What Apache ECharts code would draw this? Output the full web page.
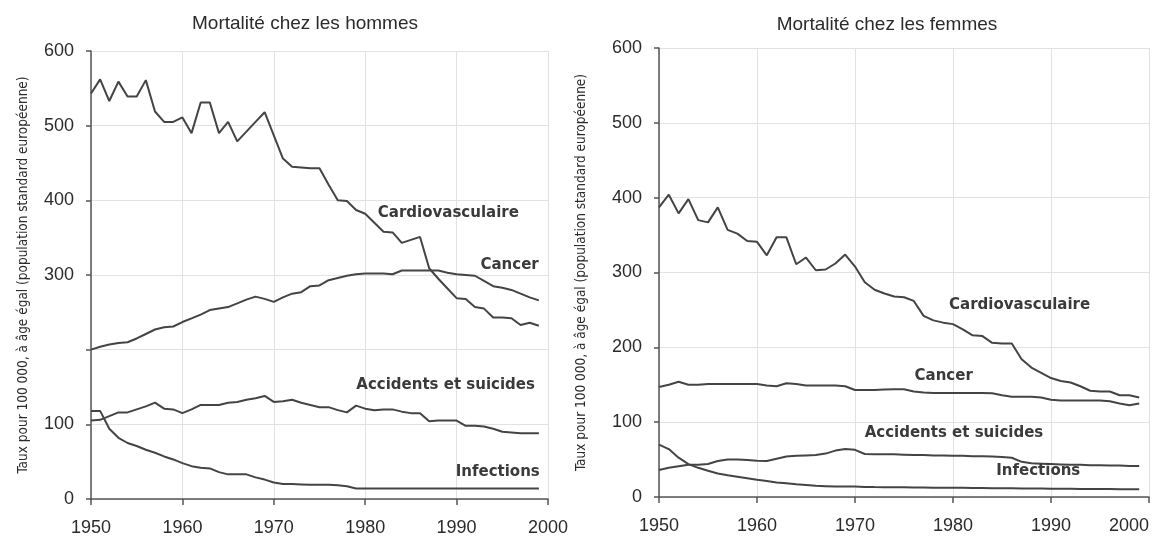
<!DOCTYPE html>
<html>
<head>
<meta charset="utf-8">
<title>Mortalité</title>
<script src="https://cdn.jsdelivr.net/npm/echarts@6/dist/echarts.min.js"></script>
<style>
  html, body { margin: 0; padding: 0; background: #fff; }
  #chart { width: 1160px; height: 537px; }
</style>
</head>
<body>
<div id="chart"></div>
<script>
// années 1950 -> 1999
const years = [
  1950, 1951, 1952, 1953, 1954, 1955, 1956, 1957, 1958, 1959,
  1960, 1961, 1962, 1963, 1964, 1965, 1966, 1967, 1968, 1969,
  1970, 1971, 1972, 1973, 1974, 1975, 1976, 1977, 1978, 1979,
  1980, 1981, 1982, 1983, 1984, 1985, 1986, 1987, 1988, 1989,
  1990, 1991, 1992, 1993, 1994, 1995, 1996, 1997, 1998, 1999
];
const yTicks = [0, 100, 200, 300, 400, 500, 600];
const xTicks = [1950, 1960, 1970, 1980, 1990, 2000];

// hommes
const hommesCardio = [
  543, 562, 533, 559, 539, 539, 561, 519, 505, 505,
  511, 490, 531, 531, 490, 505, 479, 492, 505, 518,
  487, 456, 445, 444, 443, 443, 421, 400, 399, 387,
  382, 370, 358, 357, 343, 347, 351, 309, 295, 282,
  269, 268, 257, 255, 243, 243, 242, 233, 236, 232
];
const hommesCancer = [
  200, 204, 207, 209, 210, 215, 221, 227, 230, 231,
  237, 242, 247, 253, 255, 257, 262, 267, 271, 268,
  264, 270, 275, 277, 285, 286, 293, 296, 299, 301,
  302, 302, 302, 301, 306, 306, 306, 306, 306, 303,
  301, 300, 299, 292, 285, 283, 280, 275, 270, 266
];
const hommesAccidents = [
  105, 106, 111, 116, 116, 120, 124, 129, 121, 120,
  115, 120, 126, 126, 126, 129, 130, 133, 135, 138,
  130, 131, 133, 129, 126, 123, 123, 119, 116, 125,
  121, 119, 120, 120, 117, 115, 115, 104, 105, 105,
  105, 98, 98, 97, 94, 90, 89, 88, 88, 88
];
const hommesInfections = [
  118, 118, 94, 82, 75, 71, 66, 62, 57, 53,
  48, 44, 42, 41, 36, 33, 33, 33, 29, 26,
  22, 20, 20, 19.5, 19, 19, 19, 18.5, 17, 14,
  14, 14, 14, 14, 14, 14, 14, 14, 14, 14,
  14, 14, 14, 14, 14, 14, 14, 14, 14, 14
];

// femmes
const femmesCardio = [
  387, 404, 379, 398, 370, 367, 387, 357, 352, 342,
  341, 323, 347, 347, 311, 320, 303, 304, 312, 324,
  308, 287, 277, 272, 268, 267, 262, 242, 236, 233,
  231, 224, 216, 215, 206, 205, 205, 184, 173, 166,
  159, 155, 153, 148, 142, 141, 141, 136, 136, 133
];
const femmesCancer = [
  147, 150, 154, 150, 150, 151, 151, 151, 151, 151,
  151, 149, 148, 152, 151, 149, 149, 149, 149, 148,
  143, 143, 143, 143.5, 144, 144, 141, 139.5, 139, 139,
  139, 139, 139, 139, 138.5, 136, 134, 134, 134, 133,
  130, 129, 129, 129, 129, 129, 128, 125, 122.5, 125
];
const femmesAccidents = [
  36, 39, 41, 43, 43, 44, 48, 50, 50, 49.5,
  48.5, 48, 51, 54, 55, 55.5, 56, 58, 62, 64,
  63, 57.5, 57, 57, 57, 56.5, 56, 56, 55.5, 55.5,
  55, 55, 54.5, 54.5, 54, 53.5, 52.5, 47, 45, 44.5,
  44, 43.5, 43, 43, 42.5, 42.5, 42, 42, 41.5, 41.5
];
const femmesInfections = [
  70, 64, 52.5, 44, 39, 35, 31.5, 29, 27, 25,
  23, 21.5, 19.5, 18.5, 17, 16, 15, 14.5, 14, 14,
  14, 13.5, 13.2, 13, 13, 13, 12.8, 12.7, 12.5, 12.4,
  12.3, 12.2, 12, 11.9, 11.8, 11.7, 11.6, 11.4, 11.3, 11.2,
  11.1, 11, 10.9, 10.8, 10.7, 10.6, 10.6, 10.5, 10.5, 10.4
];

const titles = ['Mortalité chez les hommes', 'Mortalité chez les femmes'];
const yName = 'Taux pour 100 000, à âge égal (population standard européenne)';
const seriesNames = ['Cardiovasculaire', 'Cancer', 'Accidents et suicides', 'Infections'];
// où poser le nom de chaque courbe (année, taux)
const labelPosHommes = [[1989.1, 383], [1995.8, 313], [1988.8, 152.6], [1994.5, 36.5]];
const labelPosFemmes = [[1986.8, 257], [1979.05, 161], [1980.1, 85.5], [1988.7, 34]];

const lineColor = '#444';
const textColor = '#2b2b2b';
const gridColor = '#e2e2e2';
const numFont = 'Liberation Sans, Arial, sans-serif';

function pairs(values) {
  return years.map(function (y, i) { return [y, values[i]]; });
}

function makeXAxis(idx) {
  return {
    gridIndex: idx,
    type: 'value',
    min: xTicks[0],
    max: xTicks[xTicks.length - 1],
    interval: 10,
    axisLine: { show: true, onZero: false, lineStyle: { color: '#555', width: 1.5 } },
    axisTick: { show: true, length: 6, lineStyle: { color: '#555', width: 1.5 } },
    splitLine: { show: true, lineStyle: { color: gridColor, width: 1 } },
    axisLabel: {
      fontSize: 18,
      color: textColor,
      fontFamily: numFont,
      margin: 20,
      alignMaxLabel: idx === 1 ? 'right' : 'center',
      formatter: function (v) { return String(v); }
    }
  };
}

function makeYAxis(idx, hide200, gap) {
  return {
    gridIndex: idx,
    type: 'value',
    min: yTicks[0],
    max: yTicks[yTicks.length - 1],
    interval: 100,
    name: yName,
    nameLocation: 'middle',
    nameGap: gap,
    nameTextStyle: {
      fontSize: 13.5,
      color: textColor,
      fontFamily: "'Liberation Sans Narrow', 'DejaVu Sans Condensed', sans-serif"
    },
    axisLine: { show: true, lineStyle: { color: '#555', width: 1.5 } },
    axisTick: { show: true, length: 5, lineStyle: { color: '#555', width: 1.5 } },
    splitLine: { show: true, lineStyle: { color: gridColor, width: 1 } },
    axisLabel: {
      fontSize: 18,
      color: textColor,
      fontFamily: numFont,
      margin: 17,
      formatter: function (v) {
        if (hide200 && v === 200) return '';
        return String(v);
      }
    }
  };
}

function makeSeries(idx, name, values, pos) {
  return {
    name: name,
    type: 'line',
    xAxisIndex: idx,
    yAxisIndex: idx,
    data: pairs(values),
    showSymbol: false,
    symbol: 'none',
    lineStyle: { color: lineColor, width: 2 },
    animation: false,
    silent: true,
    markPoint: {
      symbol: 'circle',
      symbolSize: 0,
      silent: true,
      label: {
        show: true,
        position: 'inside',
        formatter: name,
        fontFamily: 'DejaVu Sans, sans-serif',
        fontWeight: 'bold',
        fontSize: 15,
        color: '#3a3a3a'
      },
      data: [{ coord: pos }]
    }
  };
}

const chart = echarts.init(document.getElementById('chart'), null, { renderer: 'canvas' });

const hommes = [hommesCardio, hommesCancer, hommesAccidents, hommesInfections];
const femmes = [femmesCardio, femmesCancer, femmesAccidents, femmesInfections];
const series = [];
for (let i = 0; i < seriesNames.length; i++) {
  series.push(makeSeries(0, seriesNames[i], hommes[i], labelPosHommes[i]));
  series.push(makeSeries(1, seriesNames[i], femmes[i], labelPosFemmes[i]));
}

const option = {
  backgroundColor: '#fff',
  animation: false,
  title: [
    {
      text: titles[0],
      left: 300, top: 9, textAlign: 'center',
      textStyle: { fontSize: 19, fontWeight: 'normal', color: textColor, fontFamily: numFont }
    },
    {
      text: titles[1],
      left: 882, top: 10, textAlign: 'center',
      textStyle: { fontSize: 19, fontWeight: 'normal', color: textColor, fontFamily: numFont }
    }
  ],
  grid: [
    { left: 91, right: 612, top: 51, bottom: 38 },
    { left: 659, right: 11, top: 48, bottom: 40 }
  ],
  xAxis: [makeXAxis(0), makeXAxis(1)],
  yAxis: [makeYAxis(0, true, 61), makeYAxis(1, false, 71)],
  series: series
};

chart.setOption(option);
</script>
</body>
</html>
